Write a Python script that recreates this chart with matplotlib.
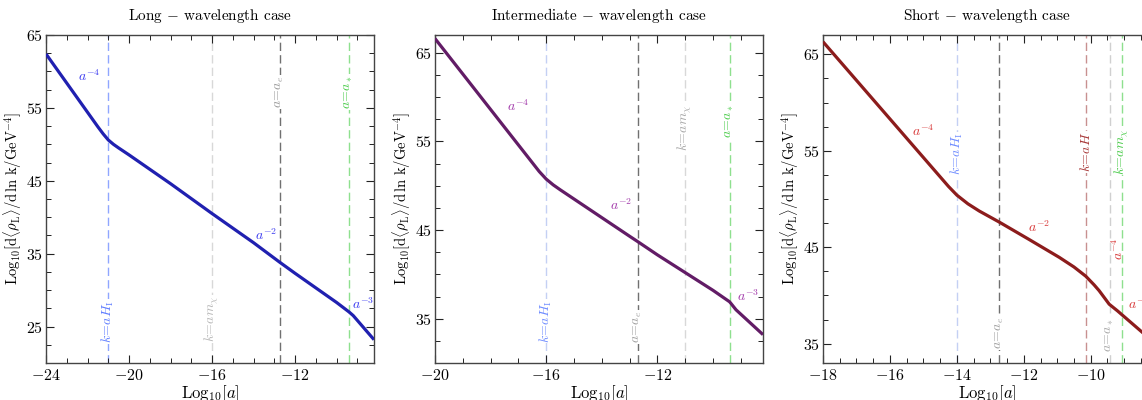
import matplotlib
matplotlib.use("Agg")
import matplotlib.pyplot as plt
from matplotlib.ticker import MultipleLocator

plt.rcParams['font.family'] = 'serif'
plt.rcParams['font.serif'] = ['cmr10', 'DejaVu Serif']
plt.rcParams['mathtext.fontset'] = 'cm'
plt.rcParams['axes.formatter.use_mathtext'] = True
plt.rcParams['axes.unicode_minus'] = True

# ---- data ----
# long-wavelength case
x_long = [-24, -23, -22, -21.5, -21.25, -21.0, -20.75, -20.5, -20.0, -18, -16, -14,
          -12.73, -12, -10, -9.4, -9.2, -8.2]
y_long = [62.4, 58.4, 54.4, 52.4, 51.45, 50.6, 50.0, 49.5, 48.55, 44.6, 40.5, 36.5,
          33.8, 32.3, 28.3, 27.0, 26.5, 23.2]

# intermediate-wavelength case
x_mid = [-20, -19, -18, -17, -16.5, -16.25, -16.0, -15.75, -15.5, -15, -14, -13,
         -12.71, -12, -11, -10, -9.4, -9.17, -8.2]
y_mid = [66.6, 62.6, 58.6, 54.6, 52.6, 51.6, 50.75, 50.1, 49.55, 48.5, 46.4, 44.3,
         43.7, 42.2, 40.2, 38.2, 36.9, 36.0, 33.2]

# short-wavelength case
x_short = [-18, -17, -16, -15, -14.5, -14.25, -14.0, -13.67, -13.33, -12.73, -11.84,
           -10.94, -10.5, -10.15, -9.9, -9.75, -9.45, -9.2, -8.5, -8.2]
y_short = [66.3, 62.3, 58.3, 54.3, 52.3, 51.3, 50.4, 49.5, 48.75, 47.6, 45.8,
           43.95, 42.95, 42.0, 41.1, 40.5, 39.1, 38.4, 36.3, 35.4]

titles = [r"Long $-$ wavelength case", r"Intermediate $-$ wavelength case",
          r"Short $-$ wavelength case"]

# vertical markers: (x, label, line colour, text colour, label y)
vlines_long = [(-21.0, r"$k\!=\!aH_{\rm I}$", "#8fa6ff", "#5f7dff", 25.7),
               (-16.0, r"$k\!=\!am_\chi$", "#d8d8d8", "#b8b8b8", 26.0),
               (-12.73, r"$a\!=\!a_e$", "#707070", "#9a9a9a", 57.2),
               (-9.4, r"$a\!=\!a_\ast$", "#8ee08e", "#4ccc4c", 57.2)]
vlines_mid = [(-16.0, r"$k\!=\!aH_{\rm I}$", "#c4d0f4", "#6f8cff", 34.7),
              (-12.71, r"$a\!=\!a_e$", "#707070", "#a0a0a0", 34.1),
              (-11.0, r"$k\!=\!am_\chi$", "#d8d8d8", "#a8a8a8", 56.5),
              (-9.4, r"$a\!=\!a_\ast$", "#8ee08e", "#4ccc4c", 57.3)]
vlines_short = [(-14.0, r"$k\!=\!aH_{\rm I}$", "#c4d0f4", "#6f8cff", 54.7),
                (-12.73, r"$a\!=\!a_e$", "#707070", "#a0a0a0", 36.1),
                (-10.15, r"$k\!=\!aH$", "#c89090", "#a83838", 54.9),
                (-9.42, r"$a\!=\!a_\ast$", "#d0d0d0", "#a8a8a8", 35.9),
                (-9.06, r"$k\!=\!am_\chi$", "#8ee08e", "#4ccc4c", 54.9)]

# slope labels: (x, y, text, rotation)
slopes_long = [(-21.9, 59.4, r"$a^{-4}$", 0), (-13.4, 37.6, r"$a^{-2}$", 0),
               (-8.73, 28.1, r"$a^{-3}$", 0)]
slopes_mid = [(-17.0, 59.0, r"$a^{-4}$", 0), (-13.3, 47.8, r"$a^{-2}$", 0),
              (-8.73, 37.5, r"$a^{-3}$", 0)]
slopes_short = [(-15.0, 57.0, r"$a^{-4}$", 0), (-11.54, 47.1, r"$a^{-2}$", 0),
                (-9.18, 44.8, r"$a^{-4}$", 90), (-8.55, 39.1, r"$a^{-3}$", 0)]

panels = [
    dict(x=x_long, y=y_long, color="#2020b0", tcolor="#3c3cf0", xlim=(-24, -8.2),
         ylim=(20, 65), yt=[25, 35, 45, 55, 65], xt=[-24, -20, -16, -12],
         vl=vlines_long, sl=slopes_long, left=46),
    dict(x=x_mid, y=y_mid, color="#621c66", tcolor="#a23aaa", xlim=(-20, -8.2),
         ylim=(30, 67), yt=[35, 45, 55, 65], xt=[-20, -16, -12],
         vl=vlines_mid, sl=slopes_mid, left=435),
    dict(x=x_short, y=y_short, color="#8c1c1c", tcolor="#d83a3a", xlim=(-18, -8.2),
         ylim=(33, 67), yt=[35, 45, 55, 65], xt=[-18, -16, -14, -12, -10],
         vl=vlines_short, sl=slopes_short, left=823),
]

W, H = 1142, 400
fig = plt.figure(figsize=(W / 100, H / 100), dpi=100)

for i, p in enumerate(panels):
    ax = fig.add_axes([p['left'] / W, 37 / H, 328 / W, 328 / H])
    for xv, lab, lc, tc, ly in p['vl']:
        ax.axvline(xv, color=lc, lw=1.0, ls=(0, (6, 3)), zorder=1)
        ax.text(xv, ly, lab, color=tc, rotation=90, ha='center', va='center',
                fontsize=10, zorder=2,
                bbox=dict(facecolor='white', edgecolor='none', pad=0.5))
    ax.plot(p['x'], p['y'], color=p['color'], lw=2.3, zorder=3,
            solid_joinstyle='round', solid_capstyle='butt')
    for sx, sy, st, rot in p['sl']:
        ax.text(sx, sy, st, color=p['tcolor'], fontsize=10, rotation=rot,
                ha='center', va='center', zorder=4)
    ax.set_xlim(*p['xlim'])
    ax.set_ylim(*p['ylim'])
    ax.set_xticks(p['xt'])
    ax.set_yticks(p['yt'])
    ax.xaxis.set_minor_locator(MultipleLocator(1 if i < 2 else 0.5))
    ax.yaxis.set_minor_locator(MultipleLocator(2.5))
    ax.tick_params(which='both', direction='in', top=True, right=True,
                   labelsize=11.5, colors='#222222', labelcolor='black')
    ax.tick_params(which='major', length=6, width=0.8)
    ax.tick_params(which='minor', length=3.5, width=0.7)
    ax.tick_params(axis='y', pad=2)
    for s in ax.spines.values():
        s.set_color('#444444')
        s.set_linewidth(1.0)
    ax.set_title(titles[i], fontsize=11, pad=11)
    ax.set_xlabel(r"$\mathrm{Log}_{10}[a]$", fontsize=12, labelpad=0)
    ax.set_ylabel(r"$\mathrm{Log}_{10}[\mathrm{d}\langle\rho_{\rm L}\rangle/"
                  r"\mathrm{d}\,\ln\,\mathrm{k}/\mathrm{GeV}^{-4}]$", fontsize=10.5)
    ax.yaxis.set_label_coords(-0.066, 0.5)

fig.savefig("out.png", dpi=100)
